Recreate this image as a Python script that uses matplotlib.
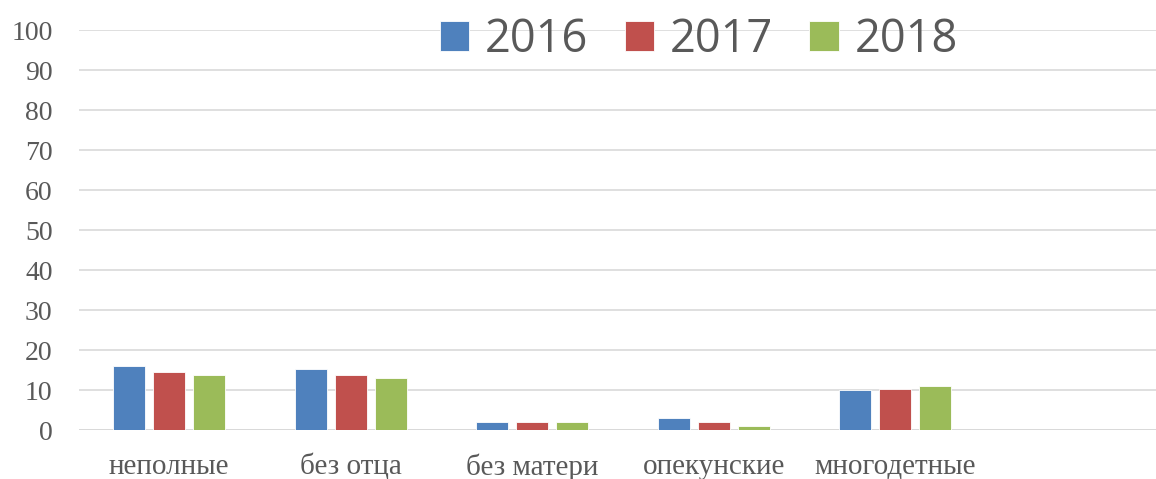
"""
Bar chart: family categories by year (2016-2018)
"""
import matplotlib
matplotlib.use('Agg')
import matplotlib.pyplot as plt
import numpy as np

categories = ['неполные', 'без отца', 'без матери', 'опекунские', 'многодетные']
years = ['2016', '2017', '2018']
values_2016 = [16.0, 15.3, 2.0, 2.9, 10.0]
values_2017 = [14.4, 13.8, 2.0, 2.0, 10.3]
values_2018 = [13.8, 13.1, 2.0, 1.0, 10.9]
y_ticks = [0, 10, 20, 30, 40, 50, 60, 70, 80, 90, 100]

colors = ['#4F81BD', '#C0504D', '#9BBB59']
text_color = '#595959'
grid_color = '#D9D9D9'

fig = plt.figure(figsize=(11.56, 4.79), dpi=100)
ax = fig.add_axes([79 / 1156, 1 - 430 / 479, 1 - 79 / 1156, 400 / 479])

x = np.arange(len(categories))
width = 0.176
offset = 0.22
series = [values_2016, values_2017, values_2018]
for i, (vals, year) in enumerate(zip(series, years)):
    ax.bar(x + (i - 1) * offset, vals, width, color=colors[i], label=year,
           zorder=3, edgecolor='white', linewidth=0.6)

ax.set_ylim(0, 100)
ax.set_xlim(-0.4956, 5.435)
ax.set_yticks(y_ticks)
ax.set_xticks(x)
ax.set_xticklabels(categories)

# gridlines, no frame
ax.grid(axis='y', color=grid_color, linewidth=1.2, zorder=0)
ax.axhline(0, color=grid_color, linewidth=1.4, zorder=1)
for spine in ax.spines.values():
    spine.set_visible(False)
ax.tick_params(axis='both', length=0, colors=text_color)
ax.tick_params(axis='y', pad=19)
ax.tick_params(axis='x', pad=17)
for lbl in ax.get_yticklabels():
    lbl.set_fontfamily('Liberation Serif')
    lbl.set_fontsize(20)
    lbl.set_color(text_color)
for lbl in ax.get_xticklabels():
    lbl.set_fontfamily('Liberation Serif')
    lbl.set_fontsize(21)
    lbl.set_color(text_color)

leg = fig.legend(loc='center', bbox_to_anchor=(699 / 1156, 1 - 40 / 479), ncol=3,
                 frameon=False, prop={'family': 'Open Sans', 'size': 32.5},
                 handlelength=0.66, handleheight=0.66, handletextpad=0.35,
                 columnspacing=0.8, borderpad=0)
for t in leg.get_texts():
    t.set_color(text_color)

fig.savefig('out.png', dpi=100)
